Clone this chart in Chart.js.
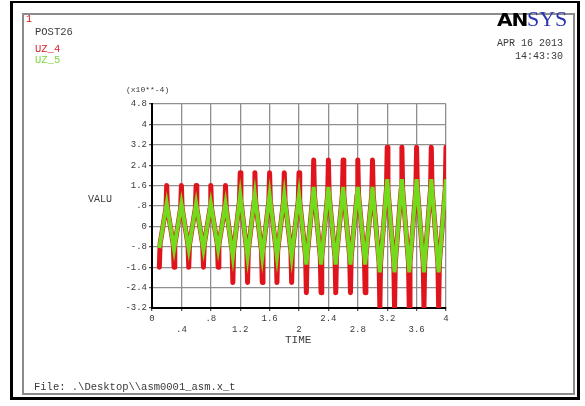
<!DOCTYPE html>
<html>
<head>
<meta charset="utf-8">
<script src="https://cdn.jsdelivr.net/npm/chart.js@4.4.0/dist/chart.umd.min.js"></script>
<style>
  html, body { margin:0; padding:0; background:#fff; }
  #wrap { position:relative; width:585px; height:406px; overflow:hidden; background:#fff; }
  #c { position:absolute; left:0; top:0; }
  .t { position:absolute; font-family:"Liberation Mono", "DejaVu Sans Mono", monospace; color:#3a3a3a; white-space:pre; line-height:12px; }
  #outer { position:absolute; left:10px; top:1px; width:564px; height:394px; border-top:2px solid #000; border-left:3px solid #000; border-right:3px solid #000; border-bottom:3px solid #000; }
  #inner { position:absolute; left:22px; top:13px; width:549px; height:378px; border:2px solid #8c8c8c; }
</style>
</head>
<body>
<div id="wrap">
  <div id="outer"></div>
  <div id="inner"></div>
  <canvas id="c" width="585" height="406"></canvas>
  <div class="t" style="left:26px;top:14px;font-size:10px;color:#d11;">1</div>
  <div class="t" style="left:35px;top:26px;font-size:10.5px;">POST26</div>
  <div class="t" style="left:35px;top:43px;font-size:10.5px;color:#d8242a;">UZ_4</div>
  <div class="t" style="left:35px;top:54px;font-size:10.5px;color:#7fd83a;">UZ_5</div>
  <div style="position:absolute;left:497px;top:8px;height:24px;white-space:nowrap;">
    <span style="display:inline-block;font-family:'DejaVu Sans',sans-serif;font-weight:900;font-size:18px;color:#000;transform:scaleX(1.12);transform-origin:left;letter-spacing:-1px;">AN</span><span style="display:inline-block;font-family:'Liberation Serif',serif;font-size:20px;color:#2b35b0;margin-left:3px;transform:scaleX(1.1);transform-origin:left;">SYS</span>
  </div>
  <div class="t" style="left:497px;top:38px;font-size:10px;">APR 16 2013</div>
  <div class="t" style="left:515px;top:51px;font-size:10px;">14:43:30</div>
  <div class="t" style="left:126px;top:84px;font-size:8px;">(x10**-4)</div>
  <div class="t" style="left:88px;top:194px;font-size:10px;">VALU</div>
  <div class="t" style="left:285px;top:334px;font-size:11px;">TIME</div>
  <div class="t" style="left:34px;top:381px;font-size:10.5px;">File: .\Desktop\\asm0001_asm.x_t</div>
</div>
<script>
// ---- data (values in units of 1e-4) ----
// times of the successive extremes (troughs at odd tenths, peaks at even tenths)
const times = [0.1,0.2,0.3,0.4,0.5,0.6,0.7,0.8,0.9,1.0,
               1.1,1.2,1.3,1.4,1.5,1.6,1.7,1.8,1.9,2.0,
               2.1,2.2,2.3,2.4,2.5,2.6,2.7,2.8,2.9,3.0,
               3.1,3.2,3.3,3.4,3.5,3.6,3.7,3.8,3.9,4.0];
// UZ_4 extreme values (tips of the red spikes)
const uz4 = [-1.6,1.6,-1.6,1.6,-1.6,1.6,-1.6,1.6,-1.6,1.6,
             -2.2,2.1,-2.2,2.1,-2.2,2.1,-2.2,2.1,-2.2,2.1,
             -2.6,2.6,-2.6,2.6,-2.6,2.6,-2.6,2.6,-2.6,2.6,
             -3.2,3.1,-3.2,3.1,-3.2,3.1,-3.2,3.1,-3.2,3.1];
// UZ_4 level where each red spike leaves the main wave
const uz4SpikeBase = [-0.68,0.72,-0.72,0.72,-0.72,0.72,-0.72,0.72,-0.72,0.72,
                      -0.96,1.0,-0.96,1.0,-0.96,1.0,-0.96,1.0,-0.96,1.0,
                      -1.2,1.24,-1.2,1.24,-1.2,1.24,-1.2,1.24,-1.2,1.24,
                      -1.44,1.48,-1.44,1.48,-1.44,1.48,-1.44,1.48,-1.44,1.48];
const spikeHalfWidth = 0.01; // time width of half a red spike
// UZ_5 extreme values
const uz5 = [-0.85,0.9,-0.9,0.9,-0.9,0.9,-0.9,0.9,-0.9,0.9,
             -1.2,1.25,-1.2,1.25,-1.2,1.25,-1.2,1.25,-1.2,1.25,
             -1.5,1.55,-1.5,1.55,-1.5,1.55,-1.5,1.55,-1.5,1.55,
             -1.8,1.85,-1.8,1.85,-1.8,1.85,-1.8,1.85,-1.8,1.85];
const xTicks = [0,0.4,0.8,1.2,1.6,2.0,2.4,2.8,3.2,3.6,4.0];
const xTickLabels = ['0','.4','.8','1.2','1.6','2','2.4','2.8','3.2','3.6','4'];
const yTicks = [-3.2,-2.4,-1.6,-0.8,0,0.8,1.6,2.4,3.2,4.0,4.8];
const yTickLabels = ['-3.2','-2.4','-1.6','-.8','0','.8','1.6','2.4','3.2','4','4.8'];

const uz4Points = [];
times.forEach((t, i) => {
  if (i > 0) uz4Points.push({ x: t - spikeHalfWidth, y: uz4SpikeBase[i] });
  uz4Points.push({ x: t, y: uz4[i] });
  if (i < times.length - 1) uz4Points.push({ x: t + spikeHalfWidth, y: uz4SpikeBase[i] });
});
const uz5Points = times.map((t, i) => ({ x: t, y: uz5[i] }));

const tickFont = { family: "'Liberation Mono', 'DejaVu Sans Mono', monospace", size: 9, lineHeight: 1.2 };

new Chart(document.getElementById('c'), {
  type: 'line',
  data: {
    datasets: [
      { label: 'UZ_5', data: uz5Points,
        borderColor: '#72dc1c', borderWidth: 4, pointRadius: 0, tension: 0, order: 0 },
      { label: 'UZ_4', data: uz4Points,
        borderColor: '#e0141c', borderWidth: 5, borderJoinStyle: 'round', borderCapStyle: 'round',
        pointRadius: 0, tension: 0, order: 1 }
    ]
  },
  options: {
    responsive: false,
    animation: false,
    events: [],
    layout: { padding: { left: 0, top: 104, right: 139, bottom: 68 } },
    plugins: { legend: { display: false }, tooltip: { enabled: false } },
    scales: {
      x: {
        type: 'linear', min: 0, max: 4,
        afterBuildTicks: s => { s.ticks = xTicks.map(v => ({ value: v })); },
        afterFit: s => { s.height = 30; },
        ticks: {
          autoSkip: false, maxRotation: 0, padding: 2, color: '#3a3a3a', font: tickFont,
          callback: (v, i) => (i % 2 === 0 ? [xTickLabels[i], ''] : ['', xTickLabels[i]])
        },
        grid: { color: '#8f8f8f', lineWidth: 1.3, tickLength: 3, tickColor: '#555' },
        border: { display: true, color: '#000', width: 2 }
      },
      y: {
        type: 'linear', min: -3.2, max: 4.8,
        afterBuildTicks: s => { s.ticks = yTicks.map(v => ({ value: v })); },
        afterFit: s => { s.width = 152; },
        ticks: {
          autoSkip: false, padding: 2, color: '#3a3a3a', font: tickFont,
          callback: (v, i) => yTickLabels[i]
        },
        grid: { color: '#8f8f8f', lineWidth: 1.3, tickLength: 3, tickColor: '#555' },
        border: { display: true, color: '#000', width: 2 }
      }
    }
  }
});
</script>
</body>
</html>
